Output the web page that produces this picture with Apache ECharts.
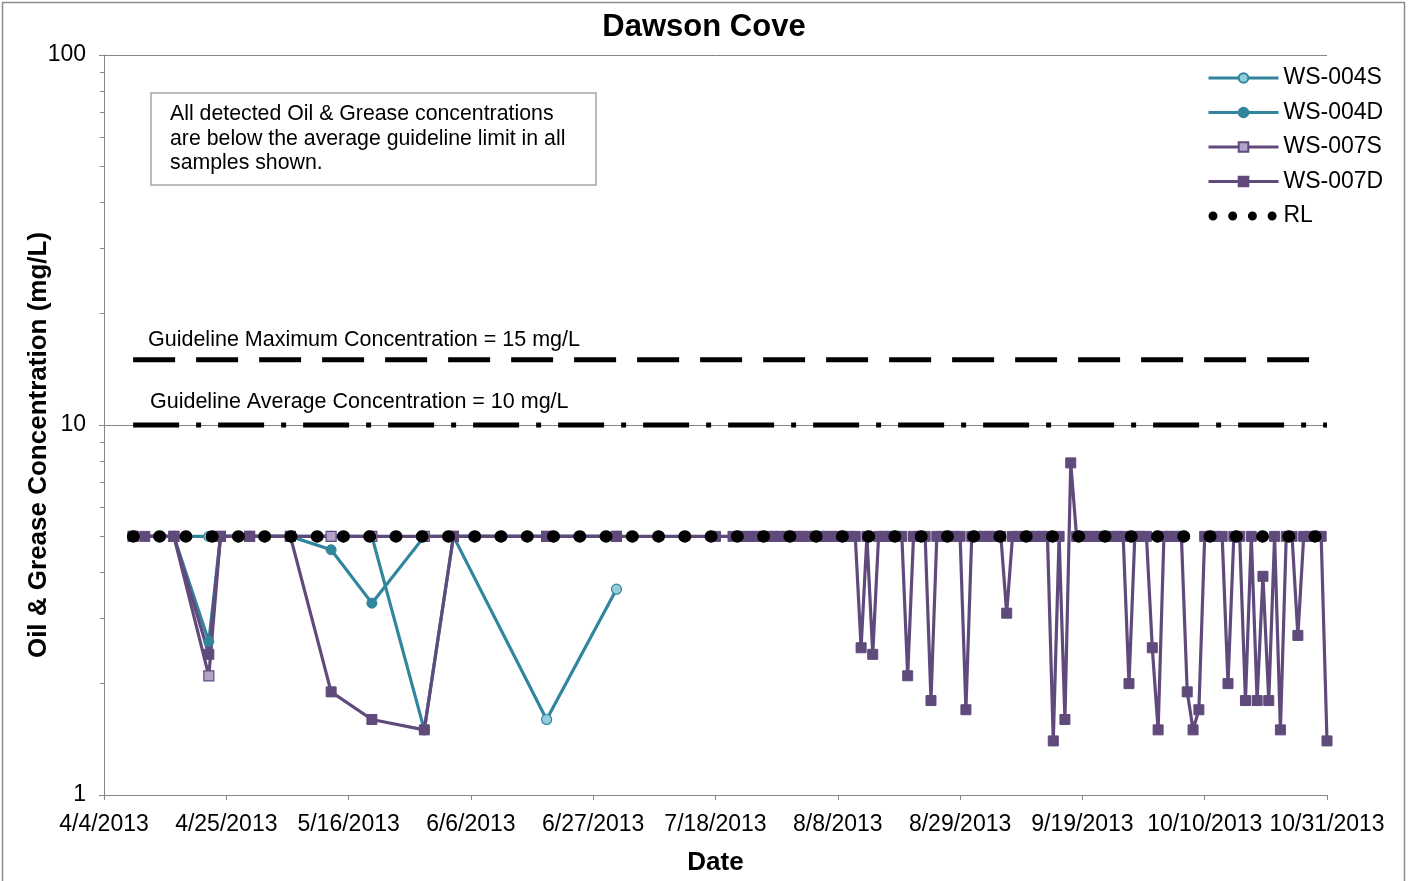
<!DOCTYPE html>
<html>
<head>
<meta charset="utf-8">
<script src="https://cdn.jsdelivr.net/npm/echarts@6/dist/echarts.min.js"></script>
<style>
html,body{margin:0;padding:0;background:#fff;}
#chart{width:1408px;height:881px;}
</style>
</head>
<body>
<div id="chart"></div>
<script>
// ---- data ----
const axisStart = '2013-04-04';
const axisEnd = '2013-10-31';
const tickDays = 21;

const ws004sDates = ['2013-04-09','2013-04-16','2013-04-22','2013-04-29','2013-05-06','2013-05-13','2013-05-20','2013-05-29','2013-06-03','2013-06-19','2013-07-01'];
const ws004sValues = [5,5,5,5,5,5,5,1.5,5,1.6,3.6];

const ws004dDates = ['2013-04-09','2013-04-16','2013-04-22','2013-04-24','2013-04-29','2013-05-06','2013-05-13','2013-05-20','2013-05-29','2013-06-03','2013-06-19','2013-07-01'];
const ws004dValues = [5,5,2.6,5,5,5,4.6,3.3,5,5,5,5];

const ws007sDates = ['2013-04-09','2013-04-16','2013-04-22','2013-04-24','2013-04-29','2013-05-06','2013-05-13','2013-05-20','2013-05-29','2013-06-03','2013-06-19','2013-07-01'];
const ws007sValues = [5,5,2.1,5,5,5,5,5,5,5,5,5];

const ws007dDates = ['2013-04-09','2013-04-11','2013-04-16','2013-04-22','2013-04-24','2013-04-29','2013-05-06','2013-05-13','2013-05-20','2013-05-29','2013-06-03','2013-06-19','2013-07-01','2013-07-18'];
const ws007dValues = [5,5,5,2.4,5,5,5,1.9,1.6,1.5,5,5,5,5];

// daily WS-007D samples from 2013-07-21 to 2013-10-31
const ws007dDailyStart = '2013-07-21';
const ws007dDailyValues = [
  5,5,5,5,5,5,5,5,5,5,
  5,5,5,5,5,5,5,5,5,5,
  5,5,2.5,5,2.4,5,5,5,5,5,
  2.1,5,5,5,1.8,5,5,5,5,5,
  1.7,5,5,5,5,5,5,3.1,5,5,
  5,5,5,5,5,1.4,5,1.6,7.9,5,
  5,5,5,5,5,5,5,5,2.0,5,
  5,5,2.5,1.5,5,5,5,5,1.9,1.5,
  1.7,5,5,5,5,2.0,5,5,1.8,5,
  1.8,3.9,1.8,5,1.5,5,5,2.7,5,5,
  5,5,1.4
];

const rlDates = ['2013-04-09','2013-10-31'];
const rlValues = [5,5];
const maxGuideDates = ['2013-04-09','2013-10-31'];
const maxGuideValues = [15,15];
const avgGuideDates = ['2013-04-09','2013-10-31'];
const avgGuideValues = [10,10];

const yMinorTickValues = [2,3,4,5,6,7,8,9,20,30,40,50,60,70,80,90];

// ---- helpers ----
const DAY = 86400000;
function toUTC(s){const p=s.split('-').map(Number);return Date.UTC(p[0],p[1]-1,p[2]);}
const base = toUTC(axisStart);
function dayOf(s){return Math.round((toUTC(s)-base)/DAY);}
function fmt(d){const t=new Date(base+d*DAY);return (t.getUTCMonth()+1)+'/'+t.getUTCDate()+'/'+t.getUTCFullYear();}
function pairs(dates, vals){return dates.map((d,i)=>[dayOf(d), vals[i]]);}

const ws007dAll = pairs(ws007dDates, ws007dValues);
const dStart = dayOf(ws007dDailyStart);
ws007dDailyValues.forEach((v,i)=>ws007dAll.push([dStart+i, v]));

const FONT = "'Liberation Sans', Arial, sans-serif";
const teal = '#31859c', purple = '#604a7b';

const chart = echarts.init(document.getElementById('chart'), null, {renderer:'canvas'});
chart.setOption({
  animation:false,
  backgroundColor:'#fff',
  title:{text:'Dawson Cove', left:'center', top:7,
    textStyle:{fontFamily:FONT, fontSize:31, fontWeight:'bold', color:'#000'}},
  grid:{left:104, right:81, top:55, bottom:86, containLabel:false},
  xAxis:{type:'value', min:0, max:dayOf(axisEnd), interval:tickDays,
    name:'Date', nameLocation:'middle', nameGap:55, nameMoveOverlap:false,
    nameTextStyle:{fontFamily:FONT, fontSize:26, fontWeight:'bold', color:'#000'},
    axisLine:{lineStyle:{color:'#868686', width:1}},
    axisTick:{show:true, inside:false, length:5, lineStyle:{color:'#868686'}},
    axisLabel:{formatter:fmt, fontFamily:FONT, fontSize:23, color:'#000', margin:18, showMinLabel:true, showMaxLabel:true},
    splitLine:{show:false}},
  yAxis:[
    {type:'log', logBase:10, min:1, max:100,
      name:'Oil & Grease Concentration (mg/L)', nameLocation:'middle', nameGap:52, nameRotate:90, nameMoveOverlap:false,
      nameTextStyle:{fontFamily:FONT, fontSize:26, fontWeight:'bold', color:'#000', padding:[0,40,0,0]},
      axisLine:{show:true, lineStyle:{color:'#868686', width:1}},
      axisTick:{show:true, inside:false, length:5, lineStyle:{color:'#868686'}},
      axisLabel:{fontFamily:FONT, fontSize:23, color:'#000', margin:18},
      splitLine:{show:true, lineStyle:{color:'#868686', width:1}}},
    {type:'log', logBase:10, min:1, max:100, position:'left', offset:0,
      axisLine:{show:false},
      axisTick:{show:true, inside:false, length:4, lineStyle:{color:'#868686'}, customValues:yMinorTickValues},
      axisLabel:{show:false},
      splitLine:{show:false}}
  ],
  legend:{orient:'vertical', left:1207, top:66, padding:0, itemWidth:70, itemHeight:12, itemGap:10.5,
    lineStyle:{width:3},
    textStyle:{fontFamily:FONT, fontSize:23, color:'#000', lineHeight:24},
    data:[
      {name:'WS-004S'},{name:'WS-004D'},{name:'WS-007S'},{name:'WS-007D'},
      {name:'RL', icon:'path://M0,0 M70,12 M0,6a4.5,4.5 0 1,0 9,0a4.5,4.5 0 1,0 -9,0 M19.7,6a4.5,4.5 0 1,0 9,0a4.5,4.5 0 1,0 -9,0 M39.4,6a4.5,4.5 0 1,0 9,0a4.5,4.5 0 1,0 -9,0 M59.1,6a4.5,4.5 0 1,0 9,0a4.5,4.5 0 1,0 -9,0'}
    ]},
  graphic:[
    {type:'rect', shape:{x:2.5,y:2.5,width:1402,height:900}, style:{fill:'none', stroke:'#8c8c8c', lineWidth:1.5}, silent:true, z:-1},
    {type:'rect', shape:{x:151,y:93,width:445,height:92}, style:{fill:'#fff', stroke:'#a6a6a6', lineWidth:1.5}, z:10},
    {type:'text', x:170, y:102, z:11, style:{text:'All detected Oil & Grease concentrations\nare below the average guideline limit in all\nsamples shown.', font:'21.3px '+FONT, lineHeight:24.5, fill:'#000'}},
    {type:'text', x:148, y:329, z:11, style:{text:'Guideline Maximum Concentration = 15 mg/L', font:'21.5px '+FONT, lineHeight:22, fill:'#000'}},
    {type:'text', x:150, y:391, z:11, style:{text:'Guideline Average Concentration = 10 mg/L', font:'21.5px '+FONT, lineHeight:22, fill:'#000'}}
  ],
  series:[
    {name:'Max Guideline', type:'line', data:pairs(maxGuideDates,maxGuideValues), symbol:'none', silent:true,
      lineStyle:{color:'#000', width:5, type:[42,21]}, z:2},
    {name:'Avg Guideline', type:'line', data:pairs(avgGuideDates,avgGuideValues), symbol:'none', silent:true,
      lineStyle:{color:'#000', width:5, type:[46,17,5,17]}, z:2},
    {name:'WS-004S', type:'line', data:pairs(ws004sDates,ws004sValues), symbol:'circle', symbolSize:10, showAllSymbol:true,
      lineStyle:{color:teal, width:3.2}, itemStyle:{color:'#92cddc', borderColor:teal, borderWidth:1.2}, z:3},
    {name:'WS-004D', type:'line', data:pairs(ws004dDates,ws004dValues), symbol:'circle', symbolSize:10, showAllSymbol:true,
      lineStyle:{color:teal, width:3.2}, itemStyle:{color:teal, borderColor:teal, borderWidth:1}, z:3},
    {name:'WS-007S', type:'line', data:pairs(ws007sDates,ws007sValues), symbol:'rect', symbolSize:10, showAllSymbol:true,
      lineStyle:{color:purple, width:3.2}, itemStyle:{color:'#b3a2c7', borderColor:purple, borderWidth:1.2}, z:3},
    {name:'WS-007D', type:'line', data:ws007dAll, symbol:'rect', symbolSize:10, showAllSymbol:true,
      lineStyle:{color:purple, width:3.2}, itemStyle:{color:purple, borderColor:purple, borderWidth:1}, z:3},
    {name:'RL', type:'line', data:pairs(rlDates,rlValues), symbol:'none', silent:true,
      lineStyle:{color:'#000', width:12.5, type:[0.5,25.76], cap:'round'}, itemStyle:{color:'#000'}, z:4}
  ]
});
</script>
</body>
</html>
